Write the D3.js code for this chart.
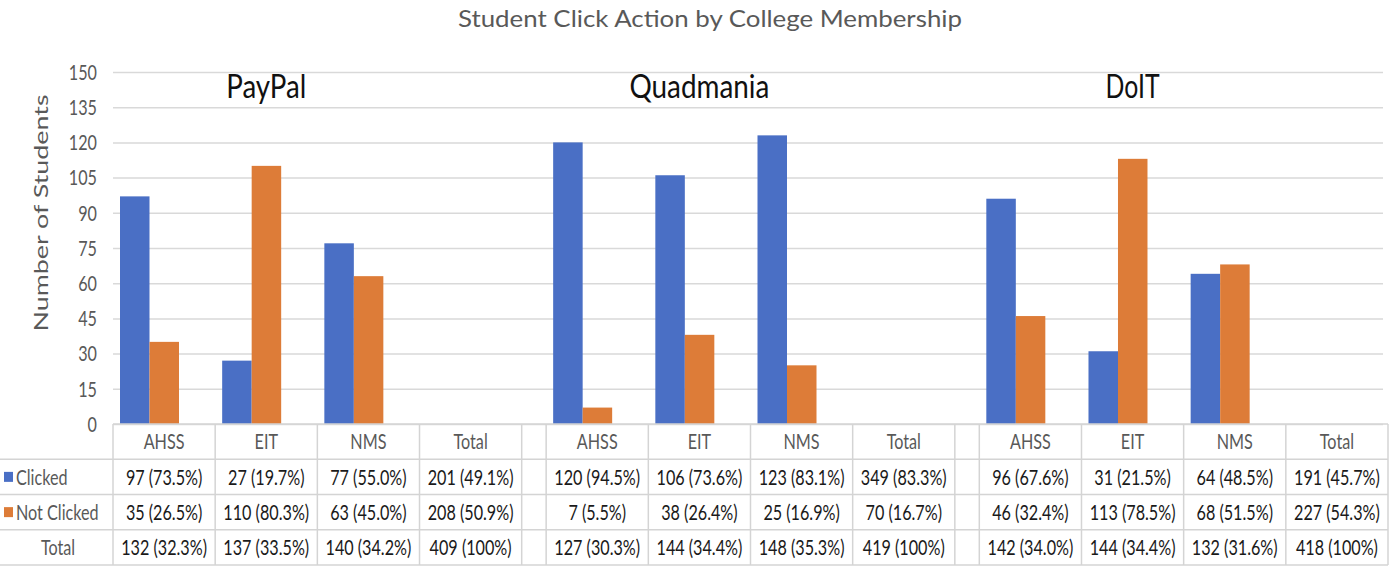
<!DOCTYPE html>
<html>
<head>
<meta charset="utf-8">
<script src="https://cdn.jsdelivr.net/npm/d3@7"></script>
<style>
  body { margin: 0; background: #fff; }
  svg { display: block; font-family: Lato, "Open Sans", sans-serif; }
</style>
</head>
<body>
<svg id="chart"></svg>
<script>
// data
const groups = ["PayPal", "Quadmania", "DoIT"];
const colleges = ["AHSS", "EIT", "NMS", "Total"];
const series = ["Clicked", "Not Clicked"];
const clicked = [[97, 27, 77, 201], [120, 106, 123, 349], [96, 31, 64, 191]];
const notClicked = [[35, 110, 63, 208], [7, 38, 25, 70], [46, 113, 68, 227]];
const yTicks = [0, 15, 30, 45, 60, 75, 90, 105, 120, 135, 150];

const width = 1393, height = 574;
const colors = { "Clicked": "#4A6FC5", "Not Clicked": "#DD7C38" };
const grey = "#595959";
const sx = 0.77; // text in the picture is squeezed horizontally

const svg = d3.select("#chart").attr("width", width).attr("height", height);

// scales
const y = d3.scaleLinear().domain([0, 150]).range([424, 72]);
const xGroup = d3.scaleBand().domain(groups).range([113, 1388]).paddingInner(0.0565);
const xCol = d3.scaleBand().domain(colleges).range([0, xGroup.bandwidth()]);
const xSer = d3.scaleBand().domain(series).range([7, 66]);
const rows = d3.scaleBand().domain(["head", "Clicked", "Not Clicked", "Total"]).range([424, 565]);

// helper for squeezed text
function label(parent, x, yy, txt, size, anchor, fill, k) {
  return parent.append("text")
    .attr("transform", `translate(${x},${yy}) scale(${k == null ? sx : k},1)`)
    .attr("text-anchor", anchor)
    .attr("dominant-baseline", "central")
    .attr("font-size", size)
    .attr("fill", fill)
    .text(txt);
}

// title
svg.append("text")
  .attr("x", 710).attr("y", 27)
  .attr("text-anchor", "middle")
  .attr("font-size", 24)
  .attr("fill", grey)
  .attr("textLength", 504).attr("lengthAdjust", "spacingAndGlyphs")
  .text("Student Click Action by College Membership");

// gridlines + y axis
const yAxis = d3.axisLeft(y).tickValues(yTicks).tickSize(-(1383 - 113)).tickPadding(0).tickFormat(d => d);
const ga = svg.append("g").attr("transform", "translate(113,0)").call(yAxis);
ga.select(".domain").remove();
ga.selectAll(".tick line").attr("stroke", "#d9d9d9").attr("stroke-width", 1.5);
ga.selectAll(".tick text").remove();
yTicks.forEach(t => label(svg, 97, y(t), t, 21, "end", grey));

svg.append("text")
  .attr("transform", "translate(40,213) rotate(-90)")
  .attr("text-anchor", "middle")
  .attr("dominant-baseline", "central")
  .attr("font-size", 19)
  .attr("fill", grey)
  .attr("textLength", 237).attr("lengthAdjust", "spacingAndGlyphs")
  .text("Number of Students");

// bars (Total column is not plotted)
groups.forEach((g, gi) => {
  const gx = xGroup(g);
  colleges.forEach((c, ci) => {
    if (c === "Total") return;
    const vals = { "Clicked": clicked[gi][ci], "Not Clicked": notClicked[gi][ci] };
    series.forEach(s => {
      svg.append("rect")
        .attr("x", gx + xCol(c) + xSer(s))
        .attr("y", y(vals[s]))
        .attr("width", xSer.bandwidth())
        .attr("height", y(0) - y(vals[s]))
        .attr("fill", colors[s]);
    });
  });
  // group title
  svg.append("text")
    .attr("x", gx + xCol("EIT") + xCol.bandwidth() / 2)
    .attr("y", 98)
    .attr("text-anchor", "middle")
    .attr("font-size", 32)
    .attr("fill", "#111")
    .attr("textLength", { PayPal: 80, Quadmania: 140, DoIT: 54 }[g])
    .attr("lengthAdjust", "spacingAndGlyphs")
    .text(g);
});

// data table
const tbl = svg.append("g");
const lineCol = "#d4d4d4";
// horizontal lines
tbl.append("line").attr("x1", 113).attr("x2", 1388).attr("y1", 424).attr("y2", 424)
  .attr("stroke", lineCol).attr("stroke-width", 1.5);
["Clicked", "Not Clicked", "Total"].forEach(r => {
  tbl.append("line").attr("x1", 0).attr("x2", 1388)
    .attr("y1", rows(r)).attr("y2", rows(r))
    .attr("stroke", lineCol).attr("stroke-width", 1.5);
});
tbl.append("line").attr("x1", 0).attr("x2", 1388)
  .attr("y1", rows.range()[1]).attr("y2", rows.range()[1])
  .attr("stroke", lineCol).attr("stroke-width", 1.5);

// vertical lines
groups.forEach(g => {
  const xs = colleges.map(c => xGroup(g) + xCol(c)).concat([xGroup(g) + xGroup.bandwidth()]);
  xs.forEach(x => {
    tbl.append("line").attr("x1", x).attr("x2", x)
      .attr("y1", 424).attr("y2", rows.range()[1])
      .attr("stroke", lineCol).attr("stroke-width", 1.5);
  });
});

// row headers / legend
const mid = r => rows(r) + rows.bandwidth() / 2;
series.forEach(s => {
  tbl.append("rect").attr("x", 4).attr("y", mid(s) - 5).attr("width", 9).attr("height", 10)
    .attr("fill", colors[s]);
  label(tbl, 16, mid(s), s, 21, "start", grey);
});
label(tbl, 58, mid("Total"), "Total", 21, "middle", grey);

// cells
const pct = d3.format(".1%");
groups.forEach((g, gi) => {
  const grand = clicked[gi][3] + notClicked[gi][3];
  colleges.forEach((c, ci) => {
    const cx = xGroup(g) + xCol(c) + xCol.bandwidth() / 2;
    const tot = clicked[gi][ci] + notClicked[gi][ci];
    label(tbl, cx, mid("head"), c, 21, "middle", grey);
    label(tbl, cx, mid("Clicked"), `${clicked[gi][ci]} (${pct(clicked[gi][ci] / tot)})`, 21, "middle", "#1a1a1a");
    label(tbl, cx, mid("Not Clicked"), `${notClicked[gi][ci]} (${pct(notClicked[gi][ci] / tot)})`, 21, "middle", "#1a1a1a");
    const totTxt = c === "Total" ? `${tot} (100%)` : `${tot} (${pct(tot / grand)})`;
    label(tbl, cx, mid("Total"), totTxt, 21, "middle", "#1a1a1a");
  });
});
</script>
</body>
</html>
